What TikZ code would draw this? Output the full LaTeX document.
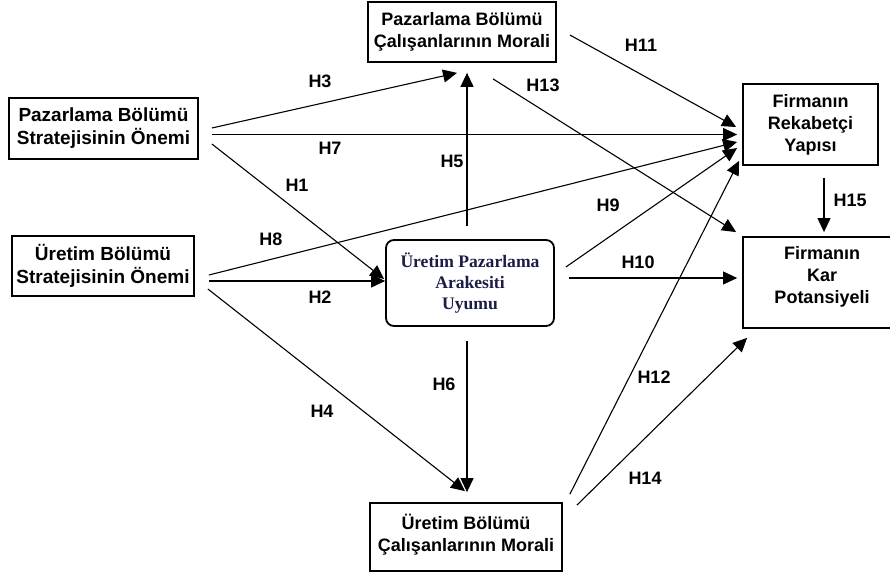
\documentclass[tikz,border=0pt]{standalone}
\usepackage{fontspec}
\setmainfont{Liberation Sans}
\newfontfamily\serifyazi{Liberation Serif}
\usetikzlibrary{arrows.meta}
\definecolor{lacivert}{RGB}{28,28,72}

\begin{document}
\begin{tikzpicture}[x=1pt,y=1pt,
    kutu/.style={draw,line width=1.8pt,align=center,inner sep=0pt,
      font=\bfseries\fontsize{18}{22}\selectfont},
    ok/.style={-{Triangle[length=14pt,width=13pt]},line width=1.1pt},
    hip/.style={font=\bfseries\fontsize{18}{18}\selectfont}]
    \useasboundingbox (0,0) rectangle (890,573);
    \clip (0,0) rectangle (890,573);
    % kutular
    \node[kutu,minimum width=189,minimum height=61,font=\bfseries\fontsize{19}{23}\selectfont] (pbs) at (103.5,444.5) {Pazarlama Bölümü\\Stratejisinin Önemi};
    \node[kutu,minimum width=182,minimum height=60,font=\bfseries\fontsize{19}{23}\selectfont] (ubs) at (103,307) {Üretim Bölümü\\Stratejisinin Önemi};
    \node[kutu,minimum width=188,minimum height=60] (pbm) at (462,541) {Pazarlama Bölümü\\Çalışanlarının Morali};
    \node[kutu,minimum width=168,minimum height=86,rounded corners=8pt,text=lacivert,
      font=\serifyazi\bfseries\fontsize{17.6}{21}\selectfont] (upa) at (470,290) {Üretim Pazarlama\\Arakesiti\\Uyumu};
    \node[kutu,minimum width=135,minimum height=81] (fry) at (810.5,448.5) {Firmanın\\Rekabetçi\\Yapısı};
    \node[kutu,minimum width=158,minimum height=91] (fkp) at (822,290.5) {Firmanın\\Kar\\Potansiyeli\\[-6pt]};
    \node[kutu,minimum width=192,minimum height=68] (ubm) at (466,36) {Üretim Bölümü\\Çalışanlarının Morali\\[-13pt]};
    % oklar
    \draw[ok] ([shift={(13,0.5)}]pbs.east) -- ([shift={(-5,-10)}]pbm.south);
    \draw[ok] ([shift={(13,-6)}]pbs.east) -- ([shift={(-5,-10)}]fry.west);
    \draw[ok] ([shift={(13,-15.5)}]pbs.east) -- ([shift={(-1,4)}]upa.west);
    \draw[ok] ([shift={(14,-9)}]ubs.east) -- ([shift={(-5,-17.5)}]fry.west);
    \draw[ok] ([shift={(14,-15)}]ubs.east) -- ([shift={(0,2)}]upa.west);
    \draw[ok] ([shift={(13,-23)}]ubs.east) -- ([shift={(-1,11)}]ubm.north);
    \draw[ok] ([shift={(-3,13)}]upa.north) -- ([shift={(5,-10)}]pbm.south);
    \draw[ok] ([shift={(-3,-14)}]upa.south) -- ([shift={(1,10)}]ubm.north);
    \draw[ok] ([shift={(13,-3)}]pbm.east) -- ([shift={(-6,-2.5)}]fry.west);
    \draw[ok] ([shift={(31,-16)}]pbm.south) -- ([shift={(-6,4)}]fkp.north west);
    \draw[ok] ([shift={(11,16)}]upa.east) -- ([shift={(-5,-23.5)}]fry.west);
    \draw[ok] ([shift={(14,5)}]upa.east) -- ([shift={(-5,4.5)}]fkp.west);
    \draw[ok] ([shift={(7,8)}]ubm.north east) -- ([shift={(-3,5)}]fry.south west);
    \draw[ok] ([shift={(14,-3)}]ubm.north east) -- ([shift={(5,-9)}]fkp.south west);
    \draw[ok] ([shift={(13.5,-12)}]fry.south) -- ([shift={(2,4)}]fkp.north);
    % hipotezler
    \node[hip] (h1) at (297,388) {H1};
    \node[hip] (h2) at (320,276) {H2};
    \node[hip] (h3) at (320,492) {H3};
    \node[hip] (h4) at (322,162) {H4};
    \node[hip] (h5) at (452,412) {H5};
    \node[hip] (h6) at (444,189) {H6};
    \node[hip] (h7) at (330,425) {H7};
    \node[hip] (h8) at (271,334) {H8};
    \node[hip] (h9) at (608,368) {H9};
    \node[hip] (h10) at (638,311) {H10};
    \node[hip] (h11) at (641,528) {H11};
    \node[hip] (h12) at (654,196) {H12};
    \node[hip] (h13) at (543,488) {H13};
    \node[hip] (h14) at (645,95) {H14};
    \node[hip] (h15) at (850,373) {H15};
\end{tikzpicture}
\end{document}
